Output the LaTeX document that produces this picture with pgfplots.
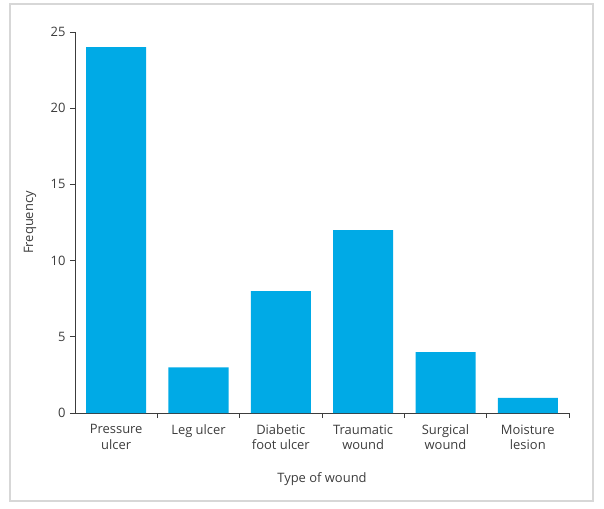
\documentclass[border=0pt]{standalone}
\usepackage{fontspec}
\setmainfont{Open Sans}
\usepackage{pgfplots}
\pgfplotsset{compat=1.18}
\definecolor{barc}{RGB}{0,170,230}
\definecolor{axc}{RGB}{60,60,60}
\definecolor{txt}{RGB}{60,60,60}
\definecolor{frm}{RGB}{215,215,215}
\begin{document}
\begin{tikzpicture}
\useasboundingbox (-75bp,-96bp) rectangle (529bp,413bp);
\draw[frm, line width=1.5bp] (-65bp,-88bp) rectangle (518bp,409bp);
\begin{axis}[
  at={(0,0)}, anchor=south west,
  scale only axis, width=494bp, height=381bp,
  xmin=-0.5, xmax=5.5, ymin=0, ymax=25,
  axis x line=bottom, axis y line=left,
  axis line style={axc, line width=0.9bp, -},
  ytick={0,5,...,25},
  xtick={0,...,5},
  xticklabels={{Pressure\\ulcer},{Leg ulcer},{Diabetic\\foot ulcer},{Traumatic\\wound},{Surgical\\wound},{Moisture\\lesion}},
  minor xtick={0.5,1.5,...,5.5},
  major x tick style={draw=none},
  minor x tick style={axc, line width=0.9bp},
  major y tick style={axc, line width=0.9bp},
  tick align=outside,
  major tick length=5bp, minor tick length=5bp,
  xticklabel style={align=center, font=\fontsize{13}{15.5}\selectfont, text=txt, yshift=-3bp},
  yticklabel style={font=\fontsize{13}{15}\selectfont, text=txt, xshift=-1bp},
  /pgf/number format/assume math mode=true,
  xlabel={Type of wound}, ylabel={Frequency},
  xlabel style={at={(axis description cs:0.5,0)}, anchor=center, yshift=-66bp, font=\fontsize{13}{15}\selectfont, text=txt},
  ylabel style={at={(axis description cs:0,0.5)}, anchor=center, yshift=45bp, font=\fontsize{13}{15}\selectfont, text=txt},
  ybar, bar width=60bp,
]
\addplot[fill=barc, draw=none] coordinates {(0,24) (1,3) (2,8) (3,12) (4,4) (5,1)};
\end{axis}
\end{tikzpicture}
\end{document}
